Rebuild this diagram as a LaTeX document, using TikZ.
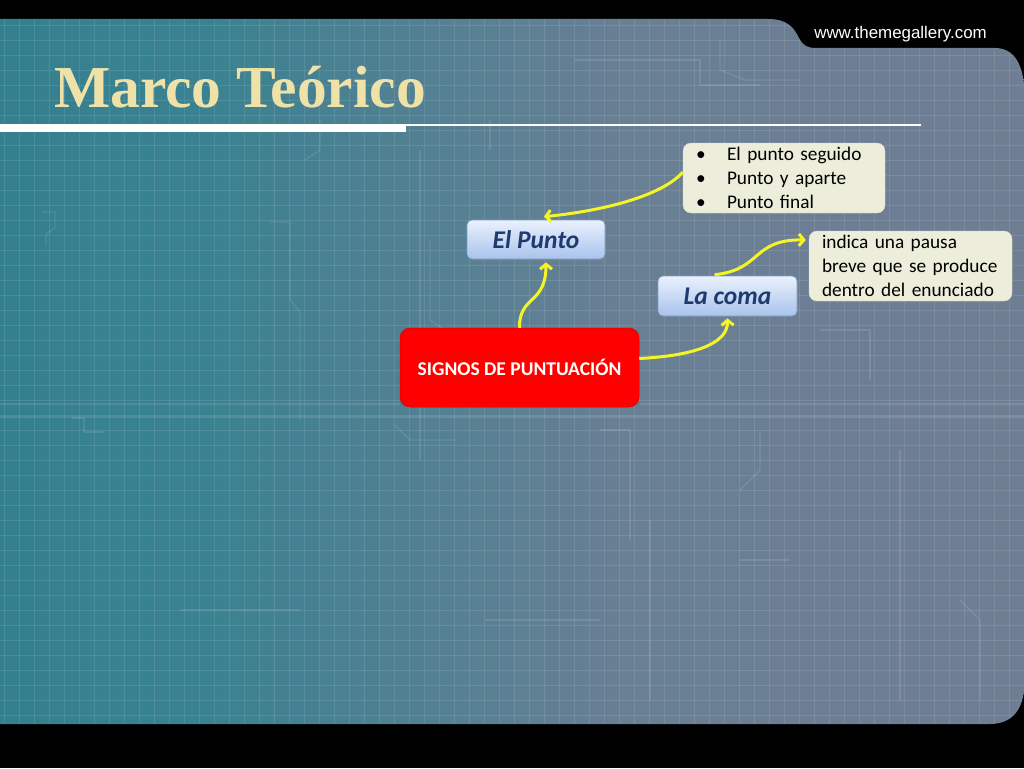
\documentclass[tikz,border=0pt]{standalone}
\usepackage{fontspec}
\setmainfont{Carlito}
\newfontfamily\titlefont{Liberation Serif}
\newfontfamily\webfont{Liberation Sans}
\usetikzlibrary{arrows.meta,shadows}
\definecolor{pA}{HTML}{26798A}
\definecolor{pB}{HTML}{3A8291}
\definecolor{pC}{HTML}{687F94}
\definecolor{pD}{HTML}{7B7C93}
\definecolor{titlecol}{HTML}{EEE2A8}
\definecolor{creamfill}{HTML}{ECEEDB}
\definecolor{bluetop}{HTML}{EAF1FD}
\definecolor{bluebot}{HTML}{A8C3EC}
\definecolor{blueborder}{HTML}{7C9CCB}
\definecolor{bluetext}{HTML}{1F3A6E}
\definecolor{arrowyellow}{HTML}{F4F426}
\pgfdeclarehorizontalshading{panelshade}{100bp}{color(0bp)=(pA); color(35bp)=(pB); color(55bp)=(pC); color(100bp)=(pD)}
\tikzset{
  gridline/.style={white, opacity=0.1, line width=0.7pt},
  trace/.style={white, opacity=0.11, line width=1.3pt},
  cream/.style={rectangle, rounded corners=8pt, fill=creamfill, draw=creamfill!80!gray, line width=0.4pt,
    font=\fontsize{19.3}{24}\selectfont, align=left, inner ysep=0pt,
    drop shadow={opacity=0.3, shadow xshift=1pt, shadow yshift=-1.5pt}},
  bluebox/.style={rectangle, rounded corners=5pt, top color=bluetop, bottom color=bluebot, draw=blueborder,
    line width=0.6pt, text=bluetext, font=\fontsize{25.5}{28}\selectfont\bfseries\itshape,
    minimum width=138pt, minimum height=39pt, inner sep=0pt,
    drop shadow={opacity=0.35, shadow xshift=1.5pt, shadow yshift=-2pt}},
  redbox/.style={rectangle, rounded corners=10pt, fill=red, draw=red!85!black, line width=0.5pt,
    text=white, font=\fontsize{19.5}{22}\selectfont\bfseries,
    minimum width=239pt, minimum height=79pt, inner sep=0pt},
  link/.style={arrowyellow, line width=3pt, -{Straight Barb[length=5pt,width=12pt,line width=3pt]}}
}
\def\panelpath{(0,19) -- (768,19) .. controls (788,19) and (794,28) .. (799,38) .. controls (803,46) and (808,48) .. (816,48) -- (995,48) .. controls (1014,48) and (1022,64) .. (1024,85) -- (1024,690) .. controls (1022,712) and (1010,724) .. (990,724) -- (0,724) -- cycle}
\begin{document}
\begin{tikzpicture}[x=1pt,y=-1pt]
\useasboundingbox (0,0) rectangle (1024,768);
\fill[black] (0,0) rectangle (1024,768);
\shade[shading=panelshade] \panelpath;
\begin{scope}
  \clip \panelpath;
  \foreach \x in {4,19,...,1024} \draw[gridline] (\x,0) -- (\x,768);
  \foreach \y in {25,40,...,730} \draw[gridline] (0,\y) -- (1024,\y);
  % faint circuit traces
  \draw[trace] (42,212) -- (55,212) -- (55,228) -- (46,234) -- (46,246);
  \draw[trace] (72,418) -- (84,418) -- (84,432) -- (104,432);
  \draw[trace] (270,222) -- (290,222) -- (290,300) -- (300,312) -- (300,420);
  \draw[trace] (430,240) -- (430,320) -- (445,330);
  \draw[trace] (420,150) -- (420,460);
  \draw[trace] (0,404) -- (400,404);
  \draw[trace] (640,404) -- (1024,404);
  \draw[trace] (0,417) -- (1024,417);
  \draw[trace] (395,425) -- (410,440) -- (455,440);
  \draw[trace] (600,430) -- (630,430) -- (630,540);
  \draw[trace] (490,120) -- (490,150);
  \draw[trace] (575,60) -- (700,60) -- (700,85) -- (760,85);
  \draw[trace] (720,40) -- (720,70) -- (745,80) -- (800,80);
  \draw[trace] (740,560) -- (790,560);
  \draw[trace] (485,620) -- (600,620);
  \draw[trace] (180,610) -- (300,610);
  \draw[trace] (650,520) -- (650,700);
  \draw[trace] (900,450) -- (900,700);
  \draw[trace] (960,600) -- (980,620) -- (980,700);
  \draw[trace] (320,120) -- (320,150) -- (305,160);
  \draw[trace] (820,330) -- (870,330) -- (870,380);
  \draw[trace] (760,430) -- (760,470) -- (740,490);
\end{scope}
% title and rules
\node[anchor=base west, inner sep=0pt, text=titlecol, font=\fontsize{59.5}{60}\titlefont\bfseries] (title) at (54,107) {Marco Teórico};
\fill[white] (0,124) rectangle (406,132);
\draw[white, line width=2pt] (406,124.5) -- (921,124.5);
\node[anchor=base east, inner sep=0pt, text=white, font=\fontsize{16.9}{19}\webfont] (web) at (987,39) {www.themegallery.com};
% nodes
\node[cream, minimum width=202pt, minimum height=70pt, text width=176pt, inner xsep=13pt] (bul) at (784,178)
  {\makebox[31pt][l]{•}El punto seguido\\ \makebox[31pt][l]{•}Punto y aparte\\ \makebox[31pt][l]{•}Punto final};
\node[cream, minimum width=203pt, minimum height=70pt, text width=177pt, inner xsep=13pt] (desc) at (910.5,266)
  {indica una pausa\\ breve que se produce\\ dentro del enunciado};
\node[bluebox] (punto) at (536,239.5) {El Punto};
\node[bluebox, minimum width=139pt, minimum height=40pt] (coma) at (727.5,296) {La coma};
\node[redbox] (signos) at (519.5,367.5) {SIGNOS DE PUNTUACIÓN};
% connectors
\coordinate (s1) at (signos.north);
\coordinate (p1) at ([xshift=10pt,yshift=-3pt]punto.south);
\draw[link] (s1) .. controls (519,295) and (546,305) .. (p1);
\coordinate (s2) at ([yshift=9pt]signos.east);
\coordinate (c1) at ([yshift=-2pt]coma.south);
\draw[link] (s2) .. controls (690,356) and (728,345) .. (c1);
\coordinate (b1) at ([yshift=6pt]bul.west);
\coordinate (p2) at ([xshift=8pt,yshift=3pt]punto.north);
\draw[link] (b1) .. controls (664,194) and (610,210) .. (p2);
\coordinate (c2) at ([xshift=-13pt,yshift=1pt]coma.north);
\coordinate (d1) at ([xshift=-3pt,yshift=26pt]desc.west);
\draw[link] (c2) .. controls (762,270) and (752,239) .. (d1);
\end{tikzpicture}
\end{document}
